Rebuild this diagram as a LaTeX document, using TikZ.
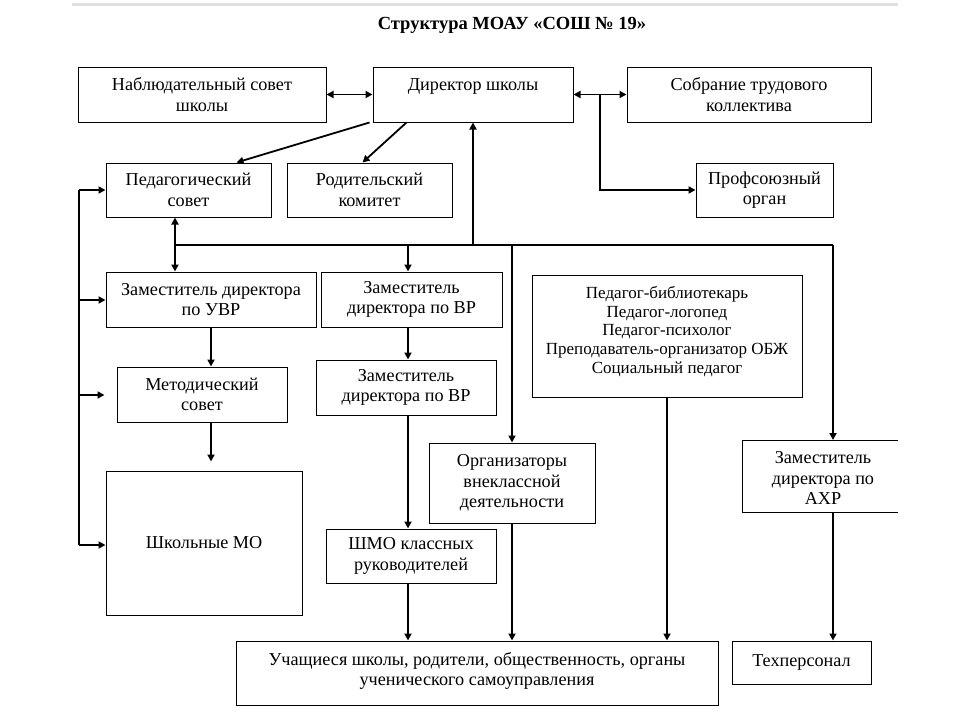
\documentclass[tikz,border=0pt]{standalone}
\usepackage{fontspec}
\setmainfont{Liberation Serif}
\usetikzlibrary{arrows.meta,calc}
\begin{document}
\begin{tikzpicture}[x=1pt,y=-1pt,
  box/.style={draw, line width=1pt, inner sep=0pt, align=center,
    font=\fontsize{18.2}{20.5}\selectfont},
  conn/.style={line width=1.8pt, -{Triangle[length=7pt,width=7pt]}},
  conn2/.style={line width=1.8pt, {Triangle[length=7pt,width=7pt]}-{Triangle[length=7pt,width=7pt]}},
  line/.style={line width=1.8pt}]
\useasboundingbox (0,0) rectangle (960,720);
\fill[white] (0,0) rectangle (960,720);
\draw[black!12, line width=3pt] (72,4) -- (898,4);

\node[font=\bfseries\fontsize{18.5}{21}\selectfont] (title) at (512,25) {Структура МОАУ «СОШ № 19»};

\node[box, minimum width=248, minimum height=55] (nab) at (202,94.5) {Наблюдательный совет\\школы};
\node[box, minimum width=200, minimum height=55] (dir) at (473,94.5) {Директор школы\\\mbox{}};
\node[box, minimum width=244, minimum height=55] (sob) at (749,94.5) {Собрание трудового\\коллектива};
\node[box, minimum width=137, minimum height=54] (prof) at (764.5,190) {Профсоюзный\\орган};
\node[box, minimum width=165, minimum height=54] (ped) at (188.5,190) {Педагогический\\совет};
\node[box, minimum width=165, minimum height=54] (rod) at (369.5,190) {Родительский\\комитет};
\node[box, minimum width=210, minimum height=55] (zuvr) at (211,299.5) {Заместитель директора\\по УВР};
\node[box, minimum width=181, minimum height=55] (zvr1) at (411.5,299.5) {Заместитель\\директора по ВР};
\node[box, minimum width=170, minimum height=55] (met) at (202,394.5) {Методический\\совет};
\node[box, minimum width=180, minimum height=55] (zvr2) at (406,387.5) {Заместитель\\директора по ВР};
\node[box, minimum width=270, minimum height=122, font=\fontsize{17}{18.7}\selectfont] (pedg) at (667,336) {Педагог-библиотекарь\\Педагог-логопед\\Педагог-психолог\\Преподаватель-организатор ОБЖ\\Социальный педагог\\[-6pt]\mbox{}};
\node[box, minimum width=166, minimum height=80] (org) at (512,483) {Организаторы\\внеклассной\\деятельности};
\node[box, draw=none, minimum width=162, minimum height=72] (ahr) at (823,478) {Заместитель\\директора по\\АХР};
\draw[line width=1pt] (898,440) -- (742,440) -- (742,512) -- (898,512);
\node[box, minimum width=196, minimum height=144] (mo) at (204,543) {Школьные МО};
\node[box, minimum width=170, minimum height=54] (shmo) at (411,556) {ШМО классных\\руководителей};
\node[box, minimum width=482, minimum height=64] (uch) at (477,673) {Учащиеся школы, родители, общественность, органы\\ученического самоуправления\\[-12pt]\mbox{}};
\node[box, minimum width=139, minimum height=43] (tech) at (801.5,662.5) {Техперсонал};

% top row
\draw[conn2] (nab.east) -- (dir.west);
\draw[conn2] (dir.east) -- (sob.west);
\coordinate (j1) at (600,94.5);
\draw[conn] (j1) |- (prof.west);
\draw[conn] ([xshift=-3pt]dir.south west) -- ([xshift=48pt]ped.north);
\draw[conn] ([xshift=34pt]dir.south west) -- ([xshift=-7pt]rod.north);

% bus
\coordinate (bL) at (175,245);
\coordinate (bR) at (833,245);
\coordinate (bD) at (473,245);
\coordinate (bV) at (408,245);
\coordinate (bO) at (512,245);
\draw[line] (bL) -- (bR);
\draw[conn] (bD) -- (dir.south);
\draw[conn] (bL) -- (bL |- ped.south);
\draw[conn] (bL) -- (bL |- zuvr.north);
\draw[conn] (bV) -- (bV |- zvr1.north);
\draw[conn] (bO) -- (org.north);
\draw[conn] (bR) -- (bR |- 0,440);

% left line
\coordinate (L1) at (79,190);
\coordinate (L2) at (79,300);
\coordinate (L3) at (79,395);
\coordinate (L4) at (79,545);
\draw[line] (L1) -- (L4);
\draw[conn] (L1) -- (L1 -| ped.west);
\draw[conn] (L2) -- (L2 -| zuvr.west);
\draw[conn, shorten >=12pt] (L3) -- (L3 -| met.west);
\draw[conn] (L4) -- (L4 -| mo.west);

% left column
\draw[conn] (zuvr.south) -- (zuvr.south |- met.north);
\draw[conn, shorten >=9pt] (met.south -| zuvr.south) -- (zuvr.south |- mo.north);

% middle column
\draw[conn] (bV |- zvr1.south) -- (bV |- zvr2.north);
\draw[conn] (bV |- zvr2.south) -- (bV |- shmo.north);
\draw[conn] (bV |- shmo.south) -- (bV |- uch.north);
\draw[conn] (org.south) -- (org.south |- uch.north);
\draw[conn] (pedg.south) -- (pedg.south |- uch.north);
\draw[conn] (bR |- 0,512) -- (bR |- tech.north);
\end{tikzpicture}
\end{document}
